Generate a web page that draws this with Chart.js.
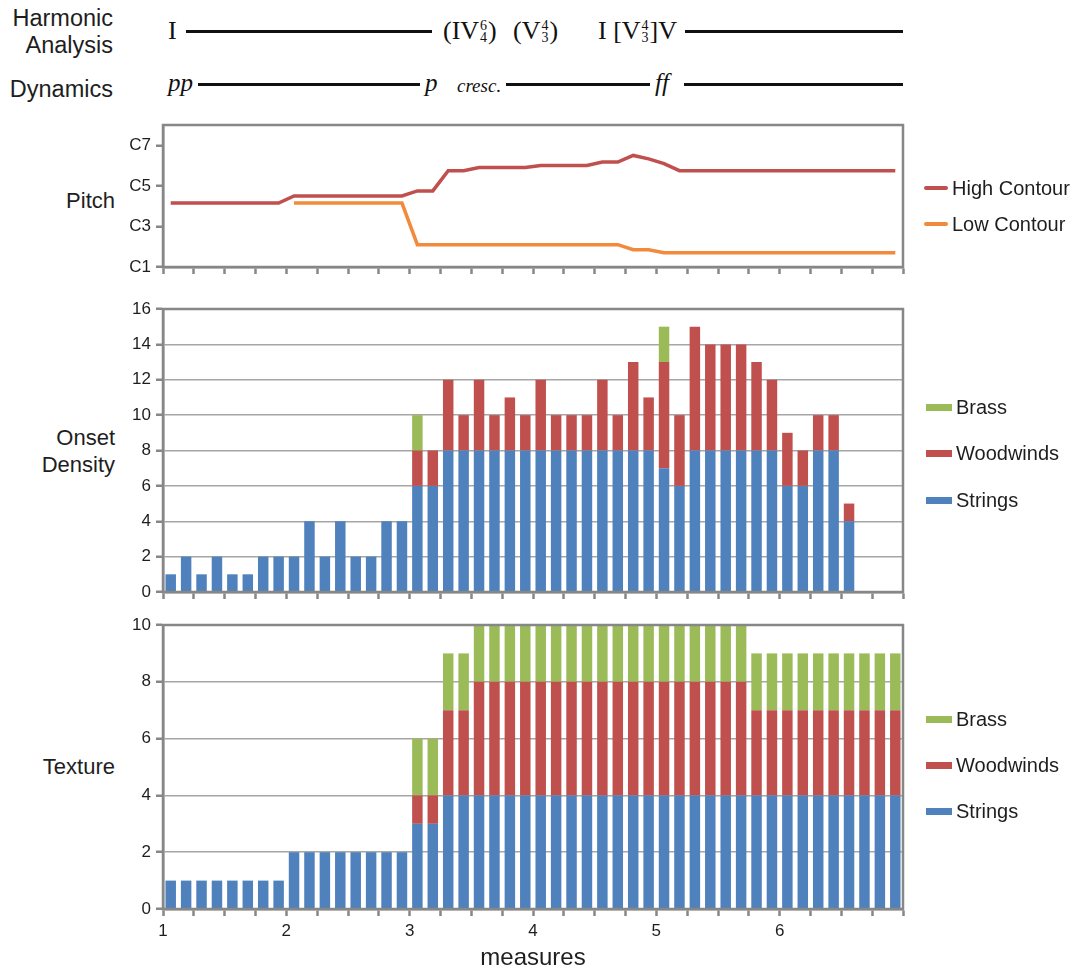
<!DOCTYPE html>
<html>
<head>
<meta charset="utf-8">
<script src="https://cdn.jsdelivr.net/npm/chart.js@4.4.1/dist/chart.umd.min.js"></script>
<style>
  body { margin: 0; background: #fff; width: 1078px; height: 970px; position: relative; overflow: hidden;
         font-family: "Liberation Sans", Arial, sans-serif; color: #1e1e1e; }
  canvas { position: absolute; left: 0; }
  .side { position: absolute; right: 963px; font-size: 22px; line-height: 26px; text-align: right; white-space: nowrap; }
  .head { right: 965px; font-size: 23.5px; line-height: 27px; }
  .serif { position: absolute; font-family: "Liberation Serif", "Times New Roman", serif; font-size: 26px; line-height: 26px; white-space: nowrap; color: #111; }
  .dyn { font-style: italic; font-size: 25px; }
  .small { font-size: 19px; }
  .rule { position: absolute; height: 2.5px; background: #111; }
  .fig { display: inline-block; vertical-align: -3px; font-size: 14px; line-height: 12px; text-align: center; margin: 0 1px; }
  .fig span { display: block; }
  .leg { position: absolute; left: 924px; display: flex; align-items: center; font-size: 20px; line-height: 24px; white-space: nowrap; }
  .leg i { display: inline-block; margin-right: 4px; }
  .leg .ln { width: 24px; height: 4px; border-radius: 2px; }
  .leg .bx { width: 26px; height: 7px; margin-left: 2px; }
</style>
</head>
<body>
<div class="side head" style="top:5px">Harmonic</div>
<div class="side head" style="top:32px">Analysis</div>
<div class="side head" style="top:76px">Dynamics</div>

<div class="serif" style="left:168px;top:18px">I</div>
<div class="rule" style="left:186px;width:246px;top:30px"></div>
<div class="serif" style="left:443px;top:18px">(IV<span class="fig"><span>6</span><span>4</span></span>)</div>
<div class="serif" style="left:513px;top:18px">(V<span class="fig"><span>4</span><span>3</span></span>)</div>
<div class="serif" style="left:598px;top:18px">I [V<span class="fig"><span>4</span><span>3</span></span>]V</div>
<div class="rule" style="left:685px;width:218px;top:30px"></div>

<div class="serif dyn" style="left:168px;top:70px">pp</div>
<div class="rule" style="left:198px;width:222px;top:83px"></div>
<div class="serif dyn" style="left:425px;top:70px">p</div>
<div class="serif dyn small" style="left:457px;top:73px">cresc.</div>
<div class="rule" style="left:506px;width:144px;top:83px"></div>
<div class="serif dyn" style="left:655px;top:70px">ff</div>
<div class="rule" style="left:684px;width:219px;top:83px"></div>

<div class="side" style="top:188px">Pitch</div>
<div class="side" style="top:425px">Onset</div>
<div class="side" style="top:452px">Density</div>
<div class="side" style="top:754px">Texture</div>

<canvas id="pitch" width="1078" height="182" style="top:105px"></canvas>
<canvas id="onset" width="1078" height="323" style="top:289px"></canvas>
<canvas id="texture" width="1078" height="365" style="top:605px"></canvas>

<div class="leg" style="top:176px"><i class="ln" style="background:#c0504d"></i>High Contour</div>
<div class="leg" style="top:212px"><i class="ln" style="background:#f28a3c"></i>Low Contour</div>

<div class="leg" style="top:395px"><i class="bx" style="background:#9bbb59"></i>Brass</div>
<div class="leg" style="top:441px"><i class="bx" style="background:#c0504d"></i>Woodwinds</div>
<div class="leg" style="top:488px"><i class="bx" style="background:#4f81bd"></i>Strings</div>

<div class="leg" style="top:707px"><i class="bx" style="background:#9bbb59"></i>Brass</div>
<div class="leg" style="top:753px"><i class="bx" style="background:#c0504d"></i>Woodwinds</div>
<div class="leg" style="top:799px"><i class="bx" style="background:#4f81bd"></i>Strings</div>

<script>
// x positions are measures; each measure holds 8 eighth-note slots
const measureLabels = [1, 2, 3, 4, 5, 6];
const pitchTicks = [1, 3, 5, 7];          // octave of C: C1, C3, C5, C7
const onsetTicks = [0, 2, 4, 6, 8, 10, 12, 14, 16];
const textureTicks = [0, 2, 4, 6, 8, 10];

const highContour = [
  4.15, 4.15, 4.15, 4.15, 4.15, 4.15, 4.15, 4.15,
  4.5, 4.5, 4.5, 4.5, 4.5, 4.5, 4.5, 4.5,
  4.75, 4.75, 5.75, 5.75, 5.9, 5.9, 5.9, 5.9,
  6.0, 6.0, 6.0, 6.0, 6.17, 6.17, 6.5, 6.33,
  6.1, 5.75, 5.75, 5.75, 5.75, 5.75, 5.75, 5.75,
  5.75, 5.75, 5.75, 5.75, 5.75, 5.75, 5.75, 5.75
];
const lowContour = [
  null, null, null, null, null, null, null, null,
  4.15, 4.15, 4.15, 4.15, 4.15, 4.15, 4.15, 4.15,
  2.1, 2.1, 2.1, 2.1, 2.1, 2.1, 2.1, 2.1,
  2.1, 2.1, 2.1, 2.1, 2.1, 2.1, 1.85, 1.85,
  1.7, 1.7, 1.7, 1.7, 1.7, 1.7, 1.7, 1.7,
  1.7, 1.7, 1.7, 1.7, 1.7, 1.7, 1.7, 1.7
];

const onsetStrings = [
  1, 2, 1, 2, 1, 1, 2, 2,
  2, 4, 2, 4, 2, 2, 4, 4,
  6, 6, 8, 8, 8, 8, 8, 8,
  8, 8, 8, 8, 8, 8, 8, 8,
  7, 6, 8, 8, 8, 8, 8, 8,
  6, 6, 8, 8, 4, 0, 0, 0
];
const onsetWoodwinds = [
  0, 0, 0, 0, 0, 0, 0, 0,
  0, 0, 0, 0, 0, 0, 0, 0,
  2, 2, 4, 2, 4, 2, 3, 2,
  4, 2, 2, 2, 4, 2, 5, 3,
  6, 4, 7, 6, 6, 6, 5, 4,
  3, 2, 2, 2, 1, 0, 0, 0
];
const onsetBrass = [
  0, 0, 0, 0, 0, 0, 0, 0,
  0, 0, 0, 0, 0, 0, 0, 0,
  2, 0, 0, 0, 0, 0, 0, 0,
  0, 0, 0, 0, 0, 0, 0, 0,
  2, 0, 0, 0, 0, 0, 0, 0,
  0, 0, 0, 0, 0, 0, 0, 0
];

const textureStrings = [
  1, 1, 1, 1, 1, 1, 1, 1,
  2, 2, 2, 2, 2, 2, 2, 2,
  3, 3, 4, 4, 4, 4, 4, 4,
  4, 4, 4, 4, 4, 4, 4, 4,
  4, 4, 4, 4, 4, 4, 4, 4,
  4, 4, 4, 4, 4, 4, 4, 4
];
const textureWoodwinds = [
  0, 0, 0, 0, 0, 0, 0, 0,
  0, 0, 0, 0, 0, 0, 0, 0,
  1, 1, 3, 3, 4, 4, 4, 4,
  4, 4, 4, 4, 4, 4, 4, 4,
  4, 4, 4, 4, 4, 4, 3, 3,
  3, 3, 3, 3, 3, 3, 3, 3
];
const textureBrass = [
  0, 0, 0, 0, 0, 0, 0, 0,
  0, 0, 0, 0, 0, 0, 0, 0,
  2, 2, 2, 2, 2, 2, 2, 2,
  2, 2, 2, 2, 2, 2, 2, 2,
  2, 2, 2, 2, 2, 2, 2, 2,
  2, 2, 2, 2, 2, 2, 2, 2
];

const axisColor = '#878787';
const gridColor = '#a6a6a6';
const textColor = '#1e1e1e';
const blue = '#4f81bd', red = '#c0504d', green = '#9bbb59', orange = '#f28a3c';

Chart.defaults.font.family = '"Liberation Sans", Arial, sans-serif';

// slot i sits in the middle of its eighth of a measure
const pts = arr => arr.map((y, i) => ({ x: 1 + (i + 0.5) / 8, y }));

const quarterTicks = [];
for (let m = 1; m <= 7; m += 0.25) quarterTicks.push(m);

// grey frame around the plot area
const frame = {
  id: 'frame',
  afterDraw(chart) {
    const { ctx, chartArea: a } = chart;
    ctx.save();
    ctx.strokeStyle = axisColor;
    ctx.lineWidth = 2.5;
    ctx.strokeRect(a.left, a.top, a.right - a.left, a.bottom - a.top);
    ctx.restore();
  }
};

function xAxis(withLabels, height) {
  return {
    type: 'linear', min: 1, max: 7, offset: false, stacked: true,
    afterBuildTicks: s => { s.ticks = quarterTicks.map(v => ({ value: v })); },
    afterFit: s => { s.height = height; },
    border: { color: axisColor, width: 2.5 },
    grid: { offset: false, drawOnChartArea: false, tickLength: 7, tickColor: axisColor, tickWidth: 2.5 },
    ticks: {
      autoSkip: false, maxRotation: 0, padding: 5, color: textColor, font: { size: 17 },
      callback: v => (withLabels && measureLabels.includes(v)) ? String(v) : ''
    },
    title: {
      display: withLabels, text: 'measures', color: textColor,
      font: { size: 24, lineHeight: 1 }, padding: 0
    }
  };
}

function yAxis(min, max, values, stacked, gridOn, fmt) {
  return {
    type: 'linear', min, max, stacked,
    afterBuildTicks: s => { s.ticks = values.map(v => ({ value: v })); },
    afterFit: s => { s.width = 163; },
    border: { color: axisColor, width: 2.5 },
    grid: { drawOnChartArea: gridOn, color: gridColor, lineWidth: 1.5, tickLength: 7, tickColor: axisColor, tickWidth: 2.5 },
    ticks: { padding: 5, color: textColor, font: { size: 17 }, callback: fmt }
  };
}

const bar = (label, values, color) => ({
  label, data: pts(values), backgroundColor: color, borderWidth: 0,
  barPercentage: 0.68, categoryPercentage: 1
});

const common = {
  responsive: false,
  animation: false,
  layout: { padding: { top: 20, right: 175, bottom: 0, left: 0 } },
  plugins: { legend: { display: false }, tooltip: { enabled: false } }
};

new Chart(document.getElementById('pitch'), {
  type: 'line',
  data: {
    datasets: [
      { label: 'High Contour', data: pts(highContour), borderColor: red, borderWidth: 3.5, pointRadius: 0, tension: 0 },
      { label: 'Low Contour', data: pts(lowContour), borderColor: orange, borderWidth: 3.5, pointRadius: 0, tension: 0, spanGaps: false }
    ]
  },
  options: {
    ...common,
    scales: {
      x: { ...xAxis(false, 20), stacked: false },
      y: yAxis(1, 8, pitchTicks, false, false, v => 'C' + v)
    }
  },
  plugins: [frame]
});

new Chart(document.getElementById('onset'), {
  type: 'bar',
  data: {
    datasets: [
      bar('Strings', onsetStrings, blue),
      bar('Woodwinds', onsetWoodwinds, red),
      bar('Brass', onsetBrass, green)
    ]
  },
  options: {
    ...common,
    scales: {
      x: xAxis(false, 20),
      y: yAxis(0, 16, onsetTicks, true, true, v => v)
    }
  },
  plugins: [frame]
});

new Chart(document.getElementById('texture'), {
  type: 'bar',
  data: {
    datasets: [
      bar('Strings', textureStrings, blue),
      bar('Woodwinds', textureWoodwinds, red),
      bar('Brass', textureBrass, green)
    ]
  },
  options: {
    ...common,
    scales: {
      x: xAxis(true, 61),
      y: yAxis(0, 10, textureTicks, true, true, v => v)
    }
  },
  plugins: [frame]
});
</script>
</body>
</html>
